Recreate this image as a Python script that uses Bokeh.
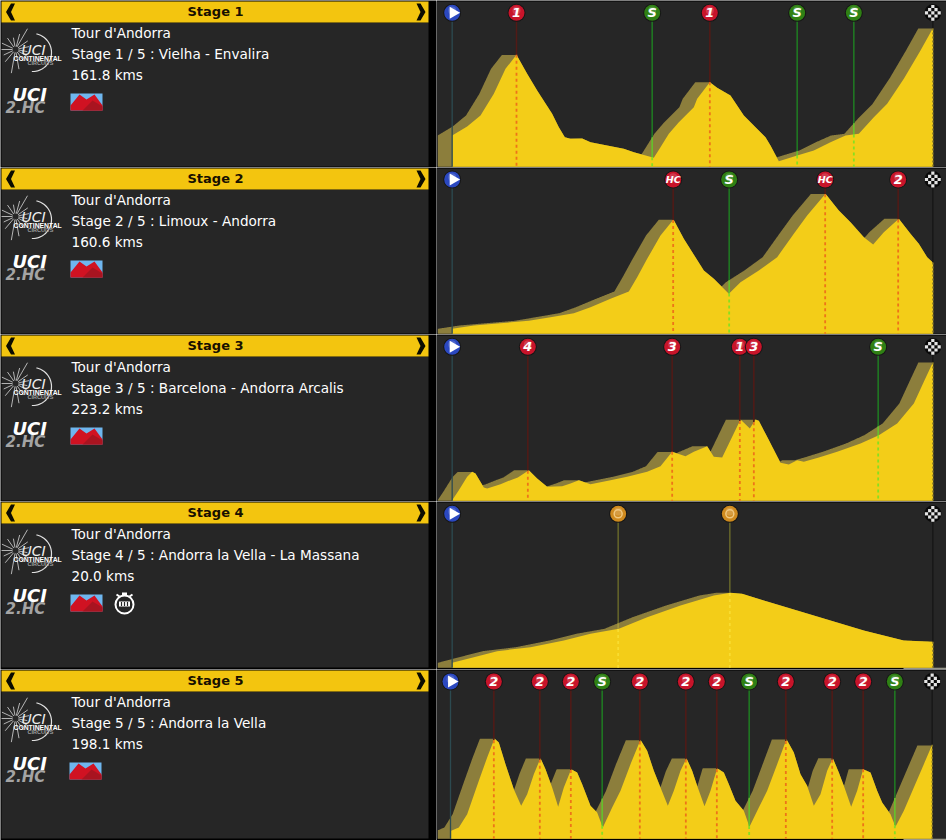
import numpy as np
from bokeh.core.properties import value
from bokeh.embed import file_html
from bokeh.layouts import column, row
from bokeh.models import Range1d
from bokeh.plotting import figure
from bokeh.resources import INLINE

# ---- data -----------------------------------------------------------------
STAGES = ["Stage 1", "Stage 2", "Stage 3", "Stage 4", "Stage 5"]
RACE = "Tour d'Andorra"
ROUTES = ["Stage 1 / 5 : Vielha - Envalira", "Stage 2 / 5 : Limoux - Andorra",
          "Stage 3 / 5 : Barcelona - Andorra Arcalis",
          "Stage 4 / 5 : Andorra la Vella - La Massana", "Stage 5 / 5 : Andorra la Vella"]
LENGTHS = ["161.8 kms", "160.6 kms", "223.2 kms", "20.0 kms", "198.1 kms"]

S1_POS = [65,110,150,190,225,258,290,320,365,385,403,420,455,480,530,580,610,670,690,715,745,790,800,838,860,900,940,975,1005,1020,1045,1100,1150,1200,1245,1285,1330,1370,1420,1470,1508]
S1_ELE = [95,122,155,220,295,337,280,230,160,120,90,85,86,75,65,55,45,28,60,100,135,180,205,255,238,215,155,120,90,65,18,35,50,75,95,100,150,190,265,350,418]
S2_POS = [65,130,200,295,360,430,480,540,595,620,650,690,729,760,820,850,895,930,985,1040,1090,1130,1185,1225,1260,1300,1328,1360,1405,1440,1465,1490,1508]
S2_ELE = [10,20,26,34,45,57,75,100,122,165,220,290,338,280,185,160,115,150,185,225,295,350,415,365,330,285,263,300,340,295,265,225,208]
S3_POS = [65,85,110,125,135,160,170,210,240,262,295,320,350,395,420,445,480,540,590,650,690,725,765,790,830,850,875,900,930,958,975,985,1010,1050,1075,1100,1120,1165,1220,1290,1345,1400,1450,1480,1508]
S3_ELE = [0,30,70,85,80,38,35,48,60,68,90,65,40,42,50,60,48,60,70,85,102,145,132,145,162,130,128,180,242,215,242,238,190,112,107,120,115,128,145,170,195,230,290,355,415]
S4_POS = [65,130,200,300,400,480,565,650,750,850,900,935,1000,1100,1200,1300,1420,1508]
S4_ELE = [13,30,48,60,80,100,115,150,185,215,223,220,200,170,140,110,80,76]
S5_POS = [62,85,110,145,170,192,205,225,250,272,290,310,330,345,365,383,400,422,440,455,480,500,517,545,570,600,630,650,670,690,712,730,750,768,785,800,822,840,860,880,895,915,940,957,985,1010,1040,1068,1090,1110,1130,1150,1170,1190,1207,1225,1240,1262,1280,1298,1320,1340,1355,1380,1395,1420,1450,1480,1505]
S5_ELE = [10,20,60,160,230,287,275,210,135,85,120,180,228,195,140,82,140,195,185,150,85,65,20,80,130,210,283,250,190,140,85,130,190,228,190,145,84,130,198,185,150,100,70,22,80,130,210,285,245,180,145,85,120,190,228,185,145,82,130,195,185,130,95,60,22,70,140,210,268]

PROFILE_POS = [S1_POS, S2_POS, S3_POS, S4_POS, S5_POS]
PROFILE_ELE = [S1_ELE, S2_ELE, S3_ELE, S4_ELE, S5_ELE]

MARK_POS = [[65,258,665,838,1100,1270,1507],
            [65,728,896,1184,1403,1507],
            [65,292,725,928,970,1343,1507],
            [65,563,898,1507],
            [60,190,328,421,515,628,766,859,956,1066,1205,1298,1393,1505]]
MARK_TXT = [[">","1","S","1","S","S","F"],
            [">","HC","S","HC","2","F"],
            [">","4","3","1","3","S","F"],
            [">","T","T","F"],
            [">","2","2","2","S","2","2","2","S","2","2","2","S","F"]]

# ---- layout and style ------------------------------------------------------
ROW_H = [167, 167, 167, 168, 171]
PANEL_B = [166, 166, 166, 166, 169]
CROP_TOP = [0, 6, 3, 3, 6]       # where a panel's top sits on the elevation scale
BADGE_Y = [37, 42, 40, 40, 42]
FONT = "DejaVu Sans"
DARK, OLIVE, YELLOW, HEAD = "#262626", "#8c7e3c", "#f3cd18", "#f3c50f"
LEFT_W, RIGHT_W = 436, 510


def base_fig(w, h, xr, yr):
    p = figure(width=w, height=h, x_range=xr, y_range=yr, toolbar_location=None,
               output_backend="svg", x_axis_location=None, y_axis_location=None,
               min_border=0, outline_line_color=None,
               background_fill_color="#000000", border_fill_color="#000000")
    p.grid.visible = False
    return p


def txt(p, x, y, s, size, color="#ffffff", style="normal", align="left", font=FONT):
    p.text([x], [y], text=[s], text_color=color, text_font=value(font), text_font_size=f"{size}px",
           text_font_style=style, text_align=align, text_baseline="middle")


def poly(p, xs, ys, color, alpha=1.0):
    p.patch(list(xs), list(ys), fill_color=color, line_color=None, fill_alpha=alpha)


def uci_logo(p):
    cx, cy = 15, 49
    for a, r in zip([-60,-35,-12,10,30,55,80,100,130,155,180,205,235,260,285],
                    [24,15,14,12,14,14,20,24,16,13,14,15,14,12,16]):
        t = np.radians(a)
        p.line([cx + 3*np.cos(t), cx + r*np.cos(t)], [cy + 3*np.sin(t), cy + r*np.sin(t)],
               line_color="#d8d8d8", line_width=0.8)
    t = np.radians(np.linspace(-78, 92, 40))
    p.line(32 + 19*np.cos(t), 52 + 19*np.sin(t), line_color="#e0e0e0", line_width=1.2)
    txt(p, 21, 49, "UCI", 14, "#f0f0f0", "italic", font="DejaVu Sans")
    txt(p, 13, 57.5, "CONTINENTAL", 6.8, "#ffffff", "bold", font="Liberation Sans")
    txt(p, 27, 62.5, "CIRCUITS", 5.5, "#a0a0a0", "bold", font="Liberation Sans")
    txt(p, 12, 93.5, "UCI", 18, "#ffffff", "bold italic", font="DejaVu Sans")
    txt(p, 5, 107, "2.HC", 15, "#a4a4a4", "bold italic", font="DejaVu Sans")


def mountain_icon(p, dx=0):
    p.quad(left=[70+dx], right=[102+dx], top=[93], bottom=[110], fill_color="#6fb6ee", line_color=None)
    poly(p, [70+dx,79+dx,86+dx,94+dx,102+dx,102+dx,70+dx], [105,94,99,94,105,110,110], "#d01222")
    poly(p, [82+dx,92+dx,102+dx,102+dx], [110,100,106,110], "#a81420")


def stopwatch(p):
    p.scatter([124], [103], size=18, marker="circle", fill_color=None, line_color="#ffffff", line_width=2)
    p.quad(left=[118.5], right=[129.5], top=[100], bottom=[105], fill_color="#ffffff", line_color=None)
    for x in [121, 124, 127]:
        p.line([x, x], [100.5, 104.5], line_color="#262626", line_width=1.2)
    p.line([116, 119], [93, 95], line_color="#ffffff", line_width=2)
    p.line([132, 129], [93, 95], line_color="#ffffff", line_width=2)
    p.quad(left=[121.5], right=[126.5], top=[91], bottom=[93.5], fill_color="#ffffff", line_color=None)


def left_panel(i):
    h = ROW_H[i]
    p = base_fig(LEFT_W, h, Range1d(0, LEFT_W), Range1d(h, 0))
    p.quad(left=[1], right=[428], top=[22], bottom=[PANEL_B[i]], fill_color=DARK, line_color=None)
    p.quad(left=[1], right=[428], top=[1], bottom=[22], fill_color=HEAD, line_color=None)
    poly(p, [14.5,10.5,5.5,10.5,14.5,10.5], [3,3,11.5,20,20,11.5], "#0c0c00")
    poly(p, [416,420,425,420,416,420], [3,3,11.5,20,20,11.5], "#0c0c00")
    txt(p, 215, 10.5, STAGES[i], 13, "#181000", "bold", "center")
    txt(p, 71, 32, RACE, 13.6)
    txt(p, 71, 53, ROUTES[i], 13.6)
    txt(p, 71, 74, LENGTHS[i], 13.6)
    uci_logo(p)
    mountain_icon(p, -1 if i == 4 else 0)
    if i == 3:
        stopwatch(p)
    return p


MARK_STYLE = {
    ">": ("#2c4a50", None, None, "#2b48c0"),
    "F": ("#161616", None, None, "#0c0c0c"),
    "S": ("#1f7d22", "#62c82a", "#86e020", "#2f8014"),
    "T": ("#66662a", "#a89a3c", "#f8dc30", "#cf8a1e"),
}
RED = ("#521a16", "#521a16", "#ee7418", "#c8142a")


def right_panel(i):
    h = ROW_H[i]
    top = 500 - CROP_TOP[i]
    p = base_fig(RIGHT_W, h, Range1d(18, 18 + 3*RIGHT_W), Range1d(top - 3*h, top))
    floor = top - 3*PANEL_B[i] - 1
    p.quad(left=[18], right=[1548], top=[top - 3], bottom=[floor], fill_color=DARK, line_color=None)
    if i >= 3:   # pale sliver under the right end of the lower two panels
        p.quad(left=[1419], right=[1548], top=[floor], bottom=[floor - 3], fill_color="#c8c8b8", line_color=None)
    pos = np.array(PROFILE_POS[i], float)
    ele = np.array(PROFILE_ELE[i], float)
    # extruded shadow behind the profile
    xs = np.arange(22, pos[-1] + 0.5, 1.5)
    env = np.max([np.interp(xs + s, pos, ele, right=0) for s in np.arange(0, 45, 1.5)], axis=0)
    poly(p, np.r_[xs[0], xs, xs[-1]], np.r_[floor, env, floor], OLIVE)
    poly(p, np.r_[pos[0], pos, pos[-1]], np.r_[floor, ele, floor], YELLOW)
    by = 500 - BADGE_Y[i]
    for xm, t in zip(MARK_POS[i], MARK_TXT[i]):
        above, mid, below, fill = MARK_STYLE.get(t, RED)
        surf = float(np.interp(xm, pos, ele))
        top_env = float(np.interp(xm, xs, env))
        if t == ">":
            p.line([xm, xm], [by, floor], line_color=above, line_width=1.3)
        elif t == "F":
            p.line([xm, xm], [by, surf], line_color=above, line_width=1.3)
            p.line([xm, xm], [surf, floor], line_color="#8a7a28", line_width=1.4, line_dash="2 2")
        else:
            p.line([xm, xm], [by, top_env], line_color=above, line_width=1.5)
            if top_env > surf:
                p.line([xm, xm], [top_env, surf], line_color=mid, line_width=1.5)
            p.line([xm, xm], [surf, floor], line_color=below, line_width=1.8, line_dash="3 3")
        if t == "F":
            p.scatter([xm], [by], size=17, marker="circle", fill_color="#0a0a0a", line_color=None)
            for a in range(-2, 3):
                for b in range(-2, 3):
                    if (a + b) % 2 == 0 and a*a + b*b <= 5:
                        p.scatter([xm + a*9.5], [by + b*9.5], size=3.2, marker="square",
                                  fill_color="#e4e4e4", line_color=None)
            continue
        p.scatter([xm], [by], size=18, marker="circle", fill_color="#161616", line_color=None)
        p.scatter([xm], [by], size=16, marker="circle", fill_color=fill, line_color=None)
        p.scatter([xm], [by + 7], size=8, marker="circle", fill_color="#ffffff", fill_alpha=0.16, line_color=None)
        if t == ">":
            p.scatter([xm + 3], [by], size=12, marker="triangle", angle=-np.pi/2, fill_color="#ffffff", line_color=None)
        elif t == "T":
            p.scatter([xm], [by], size=8, marker="circle", fill_color=None, line_color="#f0c880", line_width=1.5)
        else:
            txt(p, xm, by, t, 9.5 if t == "HC" else 13, "#ffffff", "bold italic", "center")
    return p


rows = [row(left_panel(i), right_panel(i), spacing=0) for i in range(5)]
page = column(*rows, spacing=0)
open("out.html", "w").write(file_html(page, INLINE))
